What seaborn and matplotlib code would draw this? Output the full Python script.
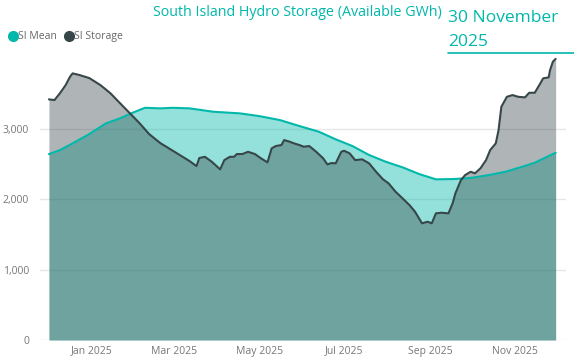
import pandas as pd
import matplotlib
matplotlib.use("Agg")
import matplotlib.pyplot as plt
import matplotlib.dates as mdates
from matplotlib.lines import Line2D
from matplotlib.ticker import FuncFormatter
import seaborn as sns

MEAN_COLOR = "#01B8AA"
STORAGE_COLOR = "#374649"
TEXT_GREY = "#777777"

# SI storage (GWh)
storage_dates = [
    "2024-12-01", "2024-12-05", "2024-12-09", "2024-12-13", "2024-12-16", "2024-12-18",
    "2024-12-23", "2024-12-30", "2025-01-07", "2025-01-14", "2025-01-21", "2025-01-28",
    "2025-02-04", "2025-02-11", "2025-02-19", "2025-02-26", "2025-03-05", "2025-03-12",
    "2025-03-17", "2025-03-19", "2025-03-23", "2025-03-28", "2025-04-03", "2025-04-06",
    "2025-04-10", "2025-04-13", "2025-04-15", "2025-04-19", "2025-04-23", "2025-04-28",
    "2025-05-02", "2025-05-07", "2025-05-10", "2025-05-13", "2025-05-17", "2025-05-19",
    "2025-05-23", "2025-05-26", "2025-05-30", "2025-06-02", "2025-06-06", "2025-06-11",
    "2025-06-16", "2025-06-19", "2025-06-22", "2025-06-25", "2025-06-29", "2025-07-01",
    "2025-07-05", "2025-07-09", "2025-07-14", "2025-07-19", "2025-07-24", "2025-07-29",
    "2025-08-02", "2025-08-07", "2025-08-12", "2025-08-17", "2025-08-21", "2025-08-26",
    "2025-08-30", "2025-09-02", "2025-09-05", "2025-09-09", "2025-09-14", "2025-09-17",
    "2025-09-19", "2025-09-23", "2025-09-26", "2025-09-30", "2025-10-03", "2025-10-07",
    "2025-10-11", "2025-10-14", "2025-10-18", "2025-10-20", "2025-10-22", "2025-10-26",
    "2025-10-30", "2025-11-03", "2025-11-08", "2025-11-11", "2025-11-15", "2025-11-19",
    "2025-11-21", "2025-11-25", "2025-11-26", "2025-11-28", "2025-11-30",
]
storage_values = [
    3424, 3414, 3514, 3627, 3741, 3794,
    3770, 3727, 3627, 3514, 3371, 3229,
    3087, 2930, 2802, 2717, 2632, 2546,
    2475, 2589, 2607, 2536, 2428, 2560,
    2607, 2607, 2646, 2646, 2678, 2646,
    2589, 2528, 2727, 2760, 2774, 2845,
    2821, 2798, 2774, 2750, 2760, 2678,
    2585, 2499, 2518, 2514, 2678, 2693,
    2656, 2560, 2570, 2514, 2394, 2286,
    2229, 2110, 2016, 1920, 1825, 1660,
    1683, 1660, 1802, 1811, 1802, 1945,
    2087, 2276, 2347, 2394, 2371, 2443,
    2560, 2703, 2798, 2987, 3319, 3461,
    3485, 3461, 3452, 3518, 3518, 3652,
    3723, 3737, 3841, 3959, 4000,
]

# SI mean (GWh)
mean_dates = [
    "2024-12-01", "2024-12-09", "2024-12-18", "2024-12-30", "2025-01-11", "2025-01-21",
    "2025-01-30", "2025-02-08", "2025-02-19", "2025-02-28", "2025-03-12", "2025-03-29",
    "2025-04-17", "2025-05-01", "2025-05-16", "2025-05-30", "2025-06-13", "2025-06-25",
    "2025-07-07", "2025-07-19", "2025-07-31", "2025-08-12", "2025-08-24", "2025-09-05",
    "2025-09-17", "2025-09-26", "2025-10-01", "2025-10-13", "2025-10-25", "2025-11-06",
    "2025-11-15", "2025-11-23", "2025-11-30",
]
mean_values = [
    2645, 2703, 2798, 2930, 3083, 3154,
    3233, 3304, 3296, 3304, 3296, 3248,
    3225, 3186, 3129, 3044, 2963, 2855,
    2760, 2632, 2536, 2457, 2361, 2286,
    2290, 2300, 2309, 2347, 2394, 2465,
    2522, 2599, 2664,
]

tick_months = ["2025-01-01", "2025-03-01", "2025-05-01", "2025-07-01", "2025-09-01", "2025-11-01"]

storage = pd.DataFrame({"date": pd.to_datetime(storage_dates), "gwh": storage_values})
mean = pd.DataFrame({"date": pd.to_datetime(mean_dates), "gwh": mean_values})

sns.set_theme(style="white")
plt.rcParams["font.family"] = ["Open Sans", "DejaVu Sans"]

fig = plt.figure(figsize=(5.74, 3.58), dpi=100)
ax = fig.add_axes([0.0697, 0.0503, 0.9163, 0.795])

# filled areas from zero, mean first then storage on top
ax.fill_between(mean["date"], mean["gwh"], 0, color=MEAN_COLOR, alpha=0.42, lw=0)
ax.fill_between(storage["date"], storage["gwh"], 0, color=STORAGE_COLOR, alpha=0.4, lw=0)
sns.lineplot(data=mean, x="date", y="gwh", color=MEAN_COLOR, lw=1.5, ax=ax)
sns.lineplot(data=storage, x="date", y="gwh", color=STORAGE_COLOR, lw=1.5, ax=ax)

ax.set_xlim(pd.Timestamp("2024-11-24 14:00"), pd.Timestamp("2025-12-07 10:00"))
ax.set_ylim(0, 4050)
ax.set_yticks([0, 1000, 2000, 3000])
ax.yaxis.set_major_formatter(FuncFormatter(lambda v, _: f"{v:,.0f}"))
ax.set_xticks(pd.to_datetime(tick_months))
ax.xaxis.set_major_formatter(mdates.DateFormatter("%b %Y"))
ax.grid(axis="y", color="#e6e6e6", lw=1)
ax.set_axisbelow(True)
ax.set_xlabel("")
ax.set_ylabel("")
ax.tick_params(axis="both", length=0, labelsize=7.5, labelcolor=TEXT_GREY)
ax.tick_params(axis="y", pad=8)
ax.tick_params(axis="x", pad=4)
sns.despine(ax=ax, left=True, bottom=True)

fig.text(0.518, 0.966, "South Island Hydro Storage (Available GWh)", color=MEAN_COLOR,
         fontsize=10.3, ha="center", va="center")
fig.text(0.781, 0.95, "30 November", color=MEAN_COLOR, fontsize=12.5, ha="left", va="center")
fig.text(0.781, 0.882, "2025", color=MEAN_COLOR, fontsize=12.5, ha="left", va="center")
fig.add_artist(Line2D([0.781, 1.0], [0.852, 0.852], color=MEAN_COLOR, lw=1.2))

handles = [
    Line2D([], [], marker="o", ls="", color=MEAN_COLOR, markersize=7),
    Line2D([], [], marker="o", ls="", color=STORAGE_COLOR, markersize=7),
]
fig.legend(handles, ["SI Mean", "SI Storage"], loc="center left", bbox_to_anchor=(0.0, 0.897),
           ncol=2, frameon=False, fontsize=7.5, labelcolor="#666666",
           handletextpad=0.05, columnspacing=0.6, handlelength=1.0, borderpad=0.2)

fig.savefig("out.png", dpi=100)
